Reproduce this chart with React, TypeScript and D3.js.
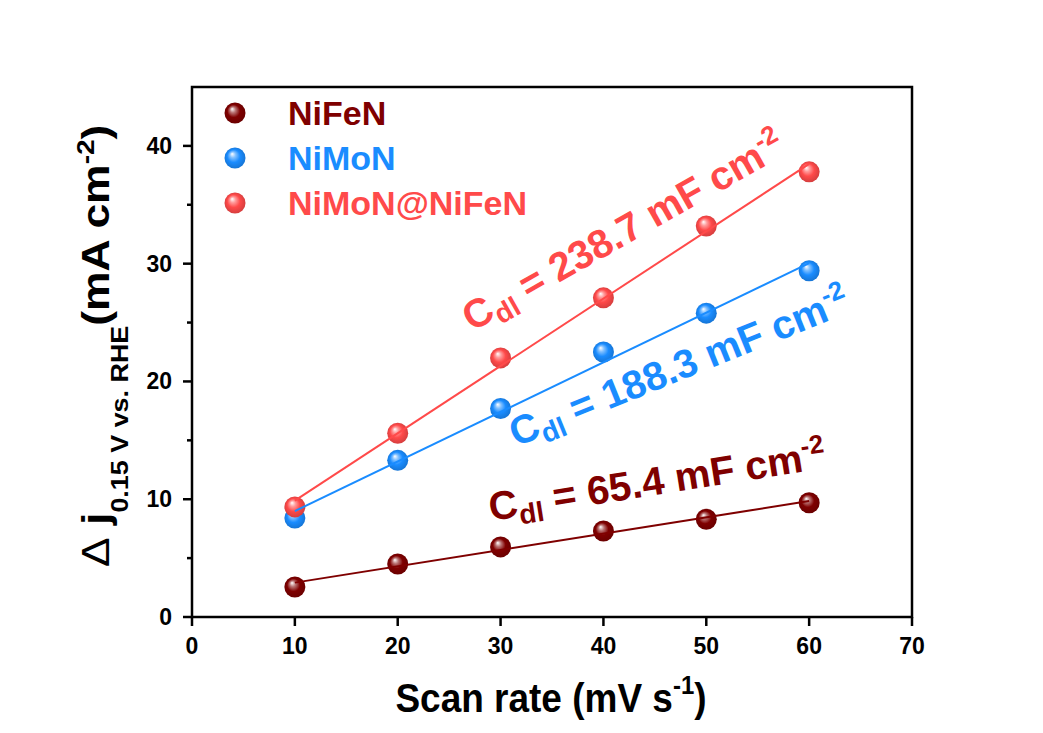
import React from "react";
import * as d3 from "d3";

// scan rates (mV s-1)
const scanRates = [10, 20, 30, 40, 50, 60];

// Δj at 0.15 V vs. RHE (mA cm-2)
const nifenValues = [2.55, 4.5, 5.95, 7.3, 8.3, 9.7];
const nimonValues = [8.4, 13.3, 17.7, 22.5, 25.8, 29.4];
const hybridValues = [9.35, 15.6, 22.0, 27.1, 33.2, 37.8];

const seriesNames = ["NiFeN", "NiMoN", "NiMoN@NiFeN"];
const seriesColors = ["#7f0000", "#1a8cff", "#ff4a4a"];
const cdlLabels = ["65.4", "188.3", "238.7"];

const xTicks = [0, 10, 20, 30, 40, 50, 60, 70];
const yTicks = [0, 10, 20, 30, 40];
const yMinorTicks = [5, 15, 25, 35];

const W = 1043;
const H = 733;
const FONT = "Arial, 'Liberation Sans', sans-serif";

// least squares fit
function fit(xs: number[], ys: number[]) {
  const mx = d3.mean(xs)!;
  const my = d3.mean(ys)!;
  const sxy = d3.sum(xs, (x, i) => (x - mx) * (ys[i] - my));
  const sxx = d3.sum(xs, x => (x - mx) * (x - mx));
  const k = sxy / sxx;
  return (x: number) => my + k * (x - mx);
}

export default function App() {
  const x = d3.scaleLinear().domain([0, 70]).range([192, 912]);
  const y = d3.scaleLinear().domain([0, 45]).range([617, 87]);

  const series = [nifenValues, nimonValues, hybridValues];
  const line = d3.line<number[]>().x(d => x(d[0])).y(d => y(d[1]));

  // annotation placement: [x, y, angle]
  const notes: [number, number, number][] = [
    [491, 521, -9],
    [516, 447, -22],
    [472, 332, -29.5],
  ];

  return (
    <svg width={W} height={H} style={{ position: "absolute", left: 0, top: 0, background: "#fff" }}
      fontFamily={FONT} fontWeight="bold">
      <defs>
        {seriesColors.map((c, i) => (
          <radialGradient key={i} id={`ball${i}`} cx="0.5" cy="0.5" r="0.55" fx="0.36" fy="0.3">
            <stop offset="0" stopColor="#ffffff" />
            <stop offset="0.25" stopColor={d3.interpolateRgb("#ffffff", c)(0.55)} />
            <stop offset="0.55" stopColor={c} />
            <stop offset="1" stopColor={d3.color(c)!.darker(0.6).formatHex()} />
          </radialGradient>
        ))}
      </defs>

      {/* frame */}
      <rect x={x(0)} y={y(45)} width={x(70) - x(0)} height={y(0) - y(45)}
        fill="none" stroke="#000" strokeWidth={2.5} />

      {/* x ticks */}
      {xTicks.map(t => (
        <g key={t}>
          <line x1={x(t)} x2={x(t)} y1={y(0)} y2={y(0) + 9} stroke="#000" strokeWidth={2.5} />
          <text transform={`translate(${x(t)},654) scale(1,1.08)`} textAnchor="middle" fontSize={23}>{t}</text>
        </g>
      ))}
      {/* y ticks */}
      {yTicks.map(t => (
        <g key={t}>
          <line x1={x(0) - 9} x2={x(0)} y1={y(t)} y2={y(t)} stroke="#000" strokeWidth={2.5} />
          <text transform={`translate(172,${y(t) + 8}) scale(1,1.08)`} textAnchor="end" fontSize={23}>{t}</text>
        </g>
      ))}
      {yMinorTicks.map(t => (
        <line key={t} x1={x(0) - 5} x2={x(0)} y1={y(t)} y2={y(t)} stroke="#000" strokeWidth={2.5} />
      ))}

      {/* markers */}
      {series.map((vals, si) =>
        vals.map((v, i) => (
          <circle key={`${si}-${i}`} cx={x(scanRates[i])} cy={y(v)} r={10.5} fill={`url(#ball${si})`} />
        ))
      )}

      {/* linear fits */}
      {series.map((vals, si) => {
        const f = fit(scanRates, vals);
        const ends = [scanRates[0], scanRates[scanRates.length - 1]].map(s => [s, f(s)]);
        return <path key={si} d={line(ends)!} fill="none" stroke={seriesColors[si]} strokeWidth={2} />;
      })}

      {/* Cdl annotations */}
      {notes.map(([nx, ny, a], i) => (
        <text key={i} transform={`translate(${nx},${ny}) rotate(${a})`} fill={seriesColors[i]} fontSize={40}>
          C<tspan fontSize={28} dy={8}>dl</tspan>
          <tspan dy={-8}> = {cdlLabels[i]} mF cm</tspan>
          <tspan fontSize={26} dy={-16}>-2</tspan>
        </text>
      ))}

      {/* legend */}
      {seriesNames.map((n, i) => (
        <g key={n}>
          <circle cx={235} cy={113 + i * 45} r={10.5} fill={`url(#ball${i})`} />
          <text x={288} y={113 + i * 45 + 12} fontSize={34} fill={seriesColors[i]}>{n}</text>
        </g>
      ))}

      {/* axis titles */}
      <text transform="translate(551,712) scale(1,1.1)" textAnchor="middle" fontSize={37}>
        Scan rate (mV s<tspan fontSize={24} dy={-16}>-1</tspan><tspan dy={16}>)</tspan>
      </text>
      <text transform={`translate(109,567) rotate(-90) scale(1.17,1)`} fontSize={38}>
        <tspan fontWeight="normal">Δ</tspan> j
        <tspan fontSize={23} dy={19}>0.15 V vs. RHE</tspan>
        <tspan dy={-19}>(mA cm</tspan>
        <tspan fontSize={24} dy={-15}>-2</tspan>
        <tspan dy={15}>)</tspan>
      </text>
    </svg>
  );
}
